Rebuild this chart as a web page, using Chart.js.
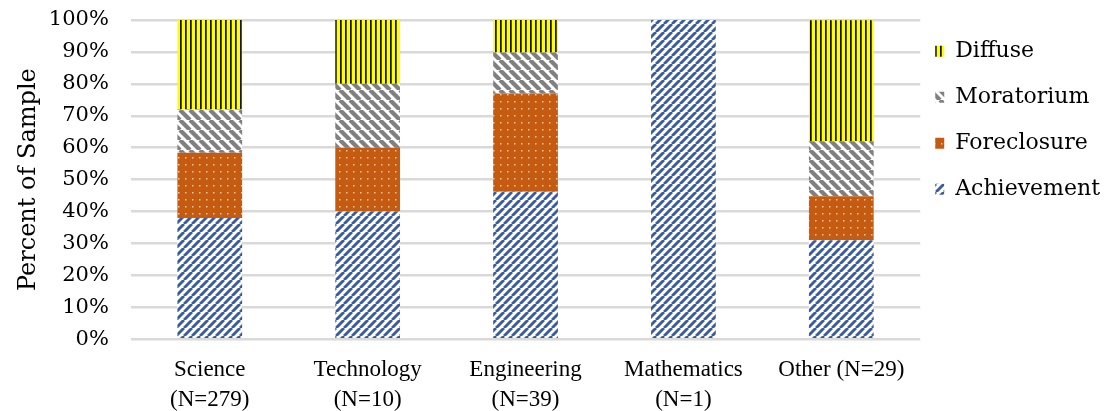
<!DOCTYPE html>
<html>
<head>
<meta charset="utf-8">
<script src="https://cdn.jsdelivr.net/npm/chart.js@4"></script>
<style>
  body { margin: 0; background: #fff; }
  #wrap { width: 1107px; height: 411px; }
</style>
</head>
<body>
<div id="wrap"><canvas id="chart"></canvas></div>
<script>
// categories and shares (percent of each group)
const categories = [["Science", "(N=279)"], ["Technology", "(N=10)"], ["Engineering", "(N=39)"], ["Mathematics", "(N=1)"], "Other (N=29)"];
const achievement = [38.0, 40, 46.2, 100, 31.0];
const foreclosure = [20.4, 20, 30.8, 0, 13.8];
const moratorium = [13.6, 20, 12.8, 0, 17.2];
const diffuse = [28.0, 20, 10.3, 0, 37.9];

const SERIF = "'DejaVu Serif', serif";
const NARROW = "'Liberation Serif', serif";

// pattern helpers
function tile(w, h, draw) {
  const c = document.createElement('canvas');
  c.width = w; c.height = h;
  const g = c.getContext('2d');
  draw(g, w, h);
  return g.createPattern(c, 'repeat');
}

const blueStripes = tile(8, 8, (g, w, h) => {
  g.fillStyle = '#fff'; g.fillRect(0, 0, w, h);
  g.strokeStyle = '#3a5c9c'; g.lineWidth = 2.9;
  for (let k = -1; k <= 1; k++) {
    g.beginPath(); g.moveTo(k * w, h); g.lineTo(k * w + w, 0); g.stroke();
  }
});
const grayStripes = tile(10, 10, (g, w, h) => {
  g.fillStyle = '#fff'; g.fillRect(0, 0, w, h);
  g.strokeStyle = '#808080'; g.lineWidth = 4.2;
  for (let k = -1; k <= 1; k++) {
    g.beginPath(); g.moveTo(k * w, 0); g.lineTo(k * w + w, h); g.stroke();
  }
});
const orangeDots = tile(7, 7, (g, w, h) => {
  g.fillStyle = '#c55a11'; g.fillRect(0, 0, w, h);
  g.fillStyle = '#eec8a4';
  g.fillRect(3, 3, 1.5, 1.5);
});
const yellowLines = tile(5, 5, (g, w, h) => {
  g.fillStyle = '#ffff00'; g.fillRect(0, 0, w, h);
  g.fillStyle = '#111';
  g.fillRect(0, 0, 1.7, h);
});

const ctx = document.getElementById('chart');
new Chart(ctx, {
  type: 'bar',
  data: {
    labels: categories,
    datasets: [
      { label: 'Achievement', data: achievement, backgroundColor: blueStripes },
      { label: 'Foreclosure', data: foreclosure, backgroundColor: orangeDots },
      { label: 'Moratorium', data: moratorium, backgroundColor: grayStripes },
      { label: 'Diffuse', data: diffuse, backgroundColor: yellowLines }
    ]
  },
  options: {
    responsive: true,
    maintainAspectRatio: false,
    animation: false,
    layout: { padding: { top: 20, right: -3, left: 8, bottom: -20 } },
    datasets: { bar: { categoryPercentage: 1, barPercentage: 0.41 } },
    plugins: {
      tooltip: { enabled: false },
      legend: {
        position: 'right',
        align: 'start',
        reverse: true,
        title: { display: true, text: ' ', font: { size: 1 }, padding: { top: 2, bottom: 2 } },
        labels: {
          boxWidth: 9, boxHeight: 11, padding: 15,
          color: '#000',
          font: { family: SERIF, size: 22, lineHeight: 1.41 },
          // one-line arrays so the row height follows the font lineHeight
          generateLabels: chart => Chart.defaults.plugins.legend.labels.generateLabels(chart)
            .map(item => Object.assign(item, { text: [item.text] }))
        }
      }
    },
    scales: {
      x: {
        stacked: true,
        grid: { display: false, drawTicks: false },
        border: { display: false },
        ticks: { color: '#000', font: { family: NARROW, size: 23, lineHeight: 1.3 }, maxRotation: 0, autoSkip: false, padding: 16 }
      },
      y: {
        stacked: true,
        min: 0, max: 100,
        border: { display: false },
        grid: { color: '#d9d9d9', lineWidth: 2.5, drawTicks: true, tickLength: 22, tickColor: 'rgba(0,0,0,0)' },
        ticks: { stepSize: 10, autoSkip: false, color: '#000', padding: 0, font: { family: SERIF, size: 21 }, callback: v => v + '%' },
        title: { display: true, text: 'Percent of Sample', color: '#000', font: { family: SERIF, size: 24 }, padding: 6 }
      }
    }
  }
});
</script>
</body>
</html>
